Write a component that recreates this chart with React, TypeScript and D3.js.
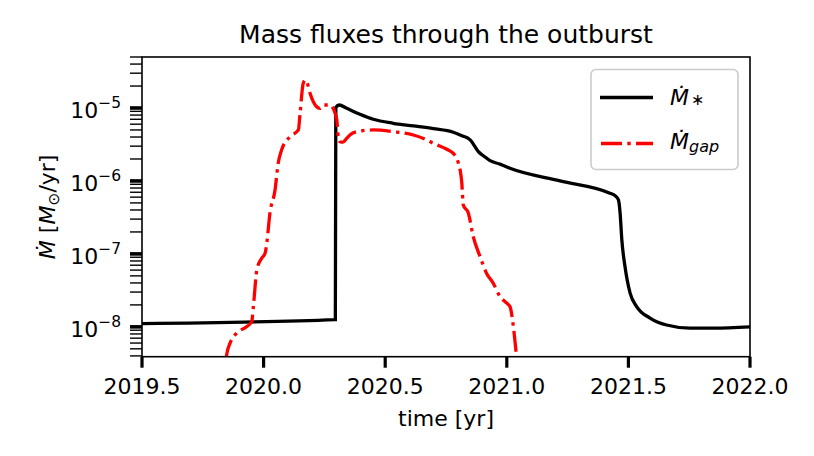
import React, { useEffect, useRef } from 'react';
import * as d3 from 'd3';

// accretion rate onto the star
const starYears = [
  2019.5, 2020.295, 2020.297, 2020.311, 2020.342, 2020.396, 2020.451, 2020.533, 2020.616,
  2020.698, 2020.78, 2020.821, 2020.84, 2020.856, 2020.865, 2020.883, 2020.905, 2020.931,
  2020.972, 2021.013, 2021.219, 2021.424, 2021.445, 2021.459, 2021.466, 2021.473, 2021.486,
  2021.507, 2021.534, 2021.589, 2021.657, 2021.753, 2021.85, 2022.0,
];
const starRates = [
  1.11e-8, 1.26e-8, 1.02e-5, 1.1e-5, 9.9e-6, 8.2e-6, 7.0e-6, 6.17e-6, 5.67e-6,
  5.2e-6, 4.65e-6, 4.1e-6, 3.85e-6, 3.45e-6, 3.1e-6, 2.52e-6, 2.2e-6, 1.9e-6,
  1.7e-6, 1.49e-6, 1.0e-6, 6.8e-7, 6.3e-7, 5.5e-7, 3.6e-7, 1.56e-7, 6.7e-8,
  2.9e-8, 1.9e-8, 1.32e-8, 1.06e-8, 9.6e-9, 9.6e-9, 1.0e-8,
];

// flux through the gap
const gapYears = [
  2019.845, 2019.848, 2019.862, 2019.889, 2019.931, 2019.951, 2019.958, 2019.972, 2019.992,
  2020.006, 2020.013, 2020.026, 2020.047, 2020.06, 2020.074, 2020.109, 2020.143, 2020.15,
  2020.163, 2020.172, 2020.178, 2020.191, 2020.218, 2020.232, 2020.245, 2020.273, 2020.285,
  2020.294, 2020.301, 2020.307, 2020.314, 2020.326, 2020.342, 2020.355, 2020.383, 2020.451,
  2020.533, 2020.616, 2020.671, 2020.698, 2020.753, 2020.78, 2020.801, 2020.815, 2020.821,
  2020.842, 2020.862, 2020.89, 2020.917, 2020.944, 2020.972, 2021.0, 2021.013, 2021.027,
  2021.038, 2021.042,
];
const gapRates = [
  3.5e-9, 4.13e-9, 5.98e-9, 8.2e-9, 1.01e-8, 1.18e-8, 1.9e-8, 6.0e-8, 8.7e-8,
  1.02e-7, 1.4e-7, 3.6e-7, 7.5e-7, 1.75e-6, 2.66e-6, 4.05e-6, 5.0e-6, 8.5e-6,
  2.18e-5, 2.42e-5, 2.27e-5, 1.59e-5, 1.04e-5, 9.9e-6, 1.1e-5, 1.1e-5, 1.0e-5,
  8.5e-6, 6.9e-6, 4.0e-6, 3.45e-6, 3.4e-6, 3.85e-6, 4.27e-6, 4.73e-6, 5.0e-6,
  4.73e-6, 4.26e-6, 3.65e-6, 3.28e-6, 2.72e-6, 2.39e-6, 1.75e-6, 9.3e-7, 4.69e-7,
  3.61e-7, 1.73e-7, 9.2e-8, 5.4e-8, 3.97e-8, 2.6e-8, 2.11e-8, 1.9e-8, 1.01e-8,
  4.6e-9, 3.5e-9,
];

const xTicks = [2019.5, 2020.0, 2020.5, 2021.0, 2021.5, 2022.0];
const yDecades = [-8, -7, -6, -5];

export default function App() {
  const svgRef = useRef<SVGSVGElement>(null);

  useEffect(() => {
    if (!svgRef.current) return;
    const svg = d3.select(svgRef.current);
    svg.selectAll('*').remove();

    const left = 142, right = 750, top = 57, bottom = 356.7;
    const font = 'DejaVu Sans';

    const x = d3.scaleLinear().domain([2019.5, 2022.0]).range([left, right]);
    const y = d3.scaleLog().domain([3.9e-9, 5e-5]).range([bottom, top]);

    svg.append('clipPath').attr('id', 'plot-clip')
      .append('rect')
      .attr('x', left).attr('y', top)
      .attr('width', right - left).attr('height', bottom - top);

    const line = d3.line<[number, number]>()
      .x(d => x(d[0]))
      .y(d => y(d[1]))
      .curve(d3.curveMonotoneX);

    const starData = starYears.map((t, i) => [t, starRates[i]] as [number, number]);
    const gapData = gapYears.map((t, i) => [t, gapRates[i]] as [number, number]);

    const plot = svg.append('g').attr('clip-path', 'url(#plot-clip)');

    plot.append('path')
      .attr('d', line(starData))
      .attr('fill', 'none')
      .attr('stroke', '#000')
      .attr('stroke-width', 3.3);

    plot.append('path')
      .attr('d', line(gapData))
      .attr('fill', 'none')
      .attr('stroke', '#ff0000')
      .attr('stroke-width', 3.3)
      .attr('stroke-dasharray', '21,5.3,3.4,5.3');

    // frame
    svg.append('rect')
      .attr('x', left).attr('y', top)
      .attr('width', right - left).attr('height', bottom - top)
      .attr('fill', 'none')
      .attr('stroke', '#000')
      .attr('stroke-width', 1.6);

    // x axis ticks and labels
    const xg = svg.append('g');
    xTicks.forEach(t => {
      xg.append('line')
        .attr('x1', x(t)).attr('x2', x(t))
        .attr('y1', bottom).attr('y2', bottom + 11)
        .attr('stroke', '#000').attr('stroke-width', 3.2);
      xg.append('text')
        .attr('x', x(t)).attr('y', 394)
        .attr('text-anchor', 'middle')
        .attr('font-family', font).attr('font-size', 22)
        .text(t.toFixed(1));
    });

    // y axis: log ticks
    const yg = svg.append('g');
    const [lo, hi] = y.domain();
    for (let n = -9; n <= -5; n++) {
      for (let k = 2; k <= 9; k++) {
        const v = k * Math.pow(10, n);
        if (v < lo || v > hi) continue;
        yg.append('line')
          .attr('x1', left).attr('x2', left - 12)
          .attr('y1', y(v)).attr('y2', y(v))
          .attr('stroke', '#000').attr('stroke-width', 1.4);
      }
    }
    yDecades.forEach(n => {
      const v = Math.pow(10, n);
      yg.append('line')
        .attr('x1', left).attr('x2', left - 12)
        .attr('y1', y(v)).attr('y2', y(v))
        .attr('stroke', '#000').attr('stroke-width', 3.6);
      const label = yg.append('text')
        .attr('x', 121).attr('y', y(v) + 10)
        .attr('text-anchor', 'end')
        .attr('font-family', font).attr('font-size', 22);
      label.append('tspan').text('10');
      label.append('tspan')
        .attr('font-size', 15.5)
        .attr('dy', -10)
        .text('\u2212' + Math.abs(n));
    });

    // title and axis labels
    svg.append('text')
      .attr('x', (left + right) / 2).attr('y', 43)
      .attr('text-anchor', 'middle')
      .attr('font-family', font).attr('font-size', 25)
      .text('Mass fluxes through the outburst');

    svg.append('text')
      .attr('x', (left + right) / 2).attr('y', 426)
      .attr('text-anchor', 'middle')
      .attr('font-family', font).attr('font-size', 22)
      .text('time [yr]');

    const yl = svg.append('text')
      .attr('transform', `translate(55,${(top + bottom) / 2}) rotate(-90)`)
      .attr('text-anchor', 'middle')
      .attr('font-family', font).attr('font-size', 22);
    yl.append('tspan').attr('font-style', 'italic').text('\u1E40');
    yl.append('tspan').text(' [');
    yl.append('tspan').attr('font-style', 'italic').text('M');
    yl.append('tspan').attr('font-size', 15.5).attr('dy', 4).text('\u2299');
    yl.append('tspan').attr('dy', -4).text('/yr]');

    // legend
    const lg = svg.append('g');
    lg.append('rect')
      .attr('x', 591).attr('y', 69.5)
      .attr('width', 147).attr('height', 100)
      .attr('rx', 5)
      .attr('fill', '#fff').attr('fill-opacity', 0.8)
      .attr('stroke', '#cccccc').attr('stroke-width', 1.6);

    lg.append('line')
      .attr('x1', 600).attr('x2', 653)
      .attr('y1', 97.5).attr('y2', 97.5)
      .attr('stroke', '#000').attr('stroke-width', 3.6);
    lg.append('line')
      .attr('x1', 601).attr('x2', 653)
      .attr('y1', 143.5).attr('y2', 143.5)
      .attr('stroke', '#ff0000').attr('stroke-width', 3.6)
      .attr('stroke-dasharray', '21,5.3,3.4,5.3');

    const t1 = lg.append('text')
      .attr('x', 670).attr('y', 105)
      .attr('font-family', font).attr('font-size', 22);
    t1.append('tspan').attr('font-style', 'italic').text('\u1E40');
    t1.append('tspan').attr('font-size', 16).attr('dx', 2).attr('dy', 0).text('\u2217');

    const t2 = lg.append('text')
      .attr('x', 670).attr('y', 148.5)
      .attr('font-family', font).attr('font-size', 22);
    t2.append('tspan').attr('font-style', 'italic').text('\u1E40');
    t2.append('tspan').attr('font-style', 'italic').attr('font-size', 16).attr('dy', 3).text('gap');
  }, []);

  return (
    <div style={{ position: 'fixed', left: 0, top: 0, width: 814, height: 456, background: '#fff' }}>
      <svg ref={svgRef} width={814} height={456} />
    </div>
  );
}
